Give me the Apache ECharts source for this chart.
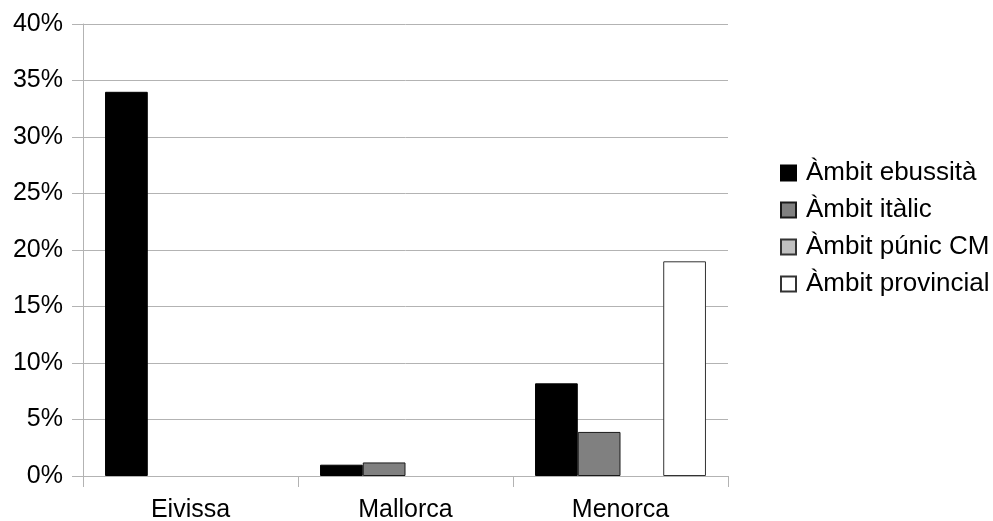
<!DOCTYPE html>
<html>
<head>
<meta charset="utf-8">
<script src="https://cdn.jsdelivr.net/npm/echarts@6/dist/echarts.min.js"></script>
<style>html,body{margin:0;padding:0;background:#fff}#c{width:993px;height:521px}</style>
</head>
<body>
<div id="c"></div>
<script>
const categories = ['Eivissa', 'Mallorca', 'Menorca'];
const seriesNames = ['Àmbit ebussità', 'Àmbit itàlic', 'Àmbit púnic CM', 'Àmbit provincial'];
const ebussita = [34, 1.0, 8.2];
const italic = [0, 1.2, 3.9];
const punicCM = [0, 0, 0];
const provincial = [0, 0, 19];
const yTicks = [0, 5, 10, 15, 20, 25, 30, 35, 40];

const font = 'Liberation Sans, Arial, sans-serif';
const styles = [
  {color: '#000000', borderColor: '#000000'},
  {color: '#808080', borderColor: '#1a1a1a'},
  {color: '#c0c0c0', borderColor: '#333333'},
  {color: '#ffffff', borderColor: '#333333'}
];
const dataSets = [ebussita, italic, punicCM, provincial];

const chart = echarts.init(document.getElementById('c'), null, {renderer: 'canvas'});
chart.setOption({
  animation: false,
  backgroundColor: '#ffffff',
  grid: {left: 83, right: 265, top: 24, bottom: 45, containLabel: false, outerBoundsMode: 'none'},
  legend: {
    orient: 'vertical',
    left: 775,
    top: 155,
    itemWidth: 15,
    itemHeight: 15,
    itemGap: 11,
    icon: 'rect',
    textStyle: {fontFamily: font, fontSize: 26, color: '#000', padding: [0, 0, 0, 5]},
    data: seriesNames
  },
  xAxis: {
    type: 'category',
    data: categories,
    axisLine: {show: true, lineStyle: {color: '#b3b3b3', width: 1}},
    axisTick: {show: true, length: 11, lineStyle: {color: '#b3b3b3'}},
    axisLabel: {fontFamily: font, fontSize: 25, color: '#000', margin: 22}
  },
  yAxis: {
    type: 'value',
    min: yTicks[0],
    max: yTicks[yTicks.length - 1],
    interval: 5,
    axisLine: {show: true, lineStyle: {color: '#b3b3b3', width: 1}},
    axisTick: {show: true, length: 11, lineStyle: {color: '#b3b3b3'}},
    splitLine: {show: true, lineStyle: {color: '#b3b3b3', width: 1}},
    axisLabel: {fontFamily: font, fontSize: 25, color: '#000', margin: 20, formatter: '{value}%'}
  },
  series: seriesNames.map((name, i) => ({
    name: name,
    type: 'bar',
    data: dataSets[i].map(v => (v === 0 ? null : v)),
    barGap: '0%',
    barCategoryGap: '20.5%',
    itemStyle: {color: styles[i].color, borderColor: styles[i].borderColor, borderWidth: 1}
  }))
});
</script>
</body>
</html>
